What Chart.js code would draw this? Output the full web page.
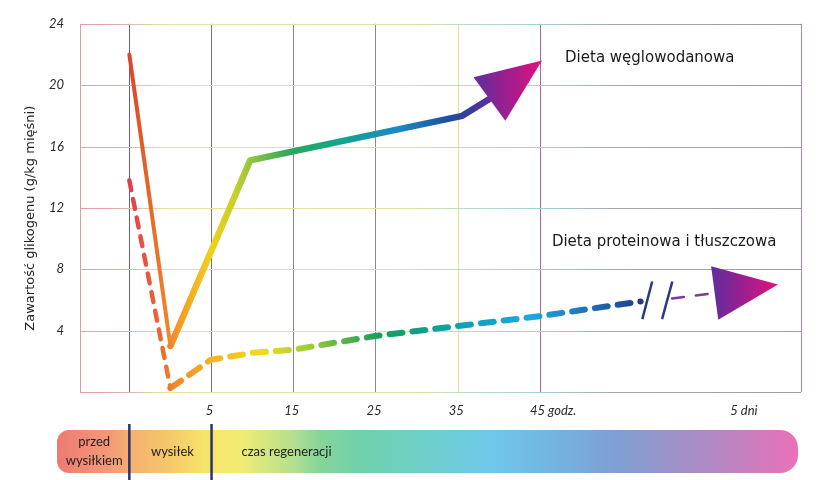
<!DOCTYPE html>
<html lang="pl">
<head>
<meta charset="utf-8">
<title>Glikogen a dieta</title>
<script src="https://cdn.jsdelivr.net/npm/chart.js@4.4.1/dist/chart.umd.min.js"></script>
<style>
    html, body { margin: 0; padding: 0; background: #fff; }
    #wrap { position: relative; width: 840px; height: 480px; }
</style>
</head>
<body>
<div id="wrap"><canvas id="glycogenChart" width="840" height="480"></canvas></div>
<script>
// values (hours after exercise / g glycogen per kg muscle)
const carbHours = [-5, 0, 9.7, 35.5, 38.8];
const carbGlycogen = [22, 3, 15.1, 18, 19.1];
const carbArrowTip = [45.2, 21.6];

const proteinHours = [-5, 0, 4.9, 10, 14.8, 24.9, 34.9, 45, 57.2, 61, 66.2];
const proteinGlycogen = [13.8, 0.25, 2.1, 2.55, 2.75, 3.65, 4.3, 4.95, 5.9, 6.1, 6.45];
const proteinArrowTip = [73.9, 7.0];
const axisBreak = [57.2, 61];
const breakMarkHours = [[57.4, 58.6], [59.8, 61.05]];
const breakMarkGlycogen = [4.75, 7.2];

const gridHours = [-5, 5, 15, 25, 35, 45];
const labelHours = [5, 15, 25, 35, 46.8, 70];
const labelTexts = ['5', '15', '25', '35', '45 godz.', '5 dni'];
const glycogenTicks = [0, 4, 8, 12, 16, 20, 24];

const phaseBounds = [-5, 5];
const phaseLabels = [['przed', 'wysiłkiem'], ['wysiłek'], ['czas regeneracji']];

const seriesNames = ['Dieta węglowodanowa', 'Dieta proteinowa i tłuszczowa'];

// colours along the lines, keyed by hour
const carbStops = [[-5, '#d9472b'], [-0.6, '#ef8126'], [1.2, '#f59d24'], [4.9, '#f2cf1c'], [7.9, '#c4d12a'],
    [9.7, '#92c640'], [14.6, '#2aa85a'], [20.7, '#12a58e'], [28, '#1a88c2'], [34, '#1e4f9c'], [37.1, '#45379c'], [39.5, '#6a2a9a']];
const proteinStops = [[-5, '#e04050'], [-1.2, '#e86a30'], [0.6, '#ef8a28'], [4.9, '#f4b224'], [11, '#f0dc1a'],
    [15.8, '#b0cf33'], [20.7, '#5cb545'], [25.5, '#14a05c'], [31.6, '#10a08c'], [36.5, '#12a0c0'], [43.8, '#1aa8e0'],
    [51.1, '#1e70b8'], [57.2, '#1e3a8a'], [60, '#7a3a9a']];

const FONT = "'DejaVu Sans', sans-serif";

function lineGradient(chart, stops, fallback) {
    const area = chart.chartArea;
    const xs = chart.scales.x;
    if (!area || !xs) return fallback;
    const g = chart.ctx.createLinearGradient(area.left, 0, area.right, 0);
    const w = area.right - area.left;
    stops.forEach(([h, col]) => {
        const t = (xs.getPixelForValue(h) - area.left) / w;
        g.addColorStop(Math.min(1, Math.max(0, t)), col);
    });
    return g;
}

const vGridColors = { '-5': '#6e5f72', '5': '#7a7080', '15': '#8a8486', '25': '#8c8a8a', '35': '#e8df94', '45': '#b0649a' };
function vGridColor(c) {
    if (!c.tick) return 'rgba(0,0,0,0)';
    const v = c.tick.value;
    if (v === c.scale.min) return '#e897a4';
    if (v === c.scale.max) return '#a58aa6';
    return vGridColors[String(v)] || 'rgba(0,0,0,0)';
}

// horizontal grid lines fade pink -> yellow -> cyan -> grey across the plot
const hGrid = {
    id: 'hGrid',
    beforeDatasetsDraw(chart) {
        const { ctx, chartArea: area, scales: { y } } = chart;
        const g = ctx.createLinearGradient(area.left, 0, area.right, 0);
        [[0, '#e99aa8'], [0.06, '#dcb0ae'], [0.12, '#e8e29a'], [0.45, '#e0e49a'], [0.55, '#aedccb'],
         [0.64, '#9ed2d4'], [0.75, '#a6a6ae'], [1, '#a898aa']].forEach(([t, col]) => g.addColorStop(t, col));
        ctx.save();
        ctx.strokeStyle = g;
        ctx.lineWidth = 1;
        y.ticks.forEach(t => {
            const py = Math.round(y.getPixelForValue(t.value)) + 0.5;
            ctx.beginPath();
            ctx.moveTo(area.left, py);
            ctx.lineTo(area.right, py);
            ctx.stroke();
        });
        ctx.restore();
    }
};

const arrowHeads = {
    id: 'arrowHeads',
    afterDatasetsDraw(chart) {
        const { ctx, scales: { x, y } } = chart;
        [[0, carbArrowTip], [1, proteinArrowTip]].forEach(([di, tip]) => {
            const pts = chart.getDatasetMeta(di).data;
            const base = pts[pts.length - 1];
            const tx = x.getPixelForValue(tip[0]);
            const ty = y.getPixelForValue(tip[1]);
            const dx = tx - base.x, dy = ty - base.y;
            const len = Math.hypot(dx, dy);
            const nx = -dy / len * 27, ny = dx / len * 27;
            const xsPts = [tx, base.x + nx, base.x - nx];
            const g = ctx.createLinearGradient(Math.min(...xsPts), 0, Math.max(...xsPts), 0);
            g.addColorStop(0, '#5e2f9c');
            g.addColorStop(0.55, '#a51c8e');
            g.addColorStop(1, '#e3127c');
            ctx.save();
            ctx.fillStyle = g;
            ctx.beginPath();
            ctx.moveTo(tx, ty);
            ctx.lineTo(base.x + nx, base.y + ny);
            ctx.lineTo(base.x - nx, base.y - ny);
            ctx.closePath();
            ctx.fill();
            ctx.restore();
        });
    }
};

const seriesNotes = {
    id: 'seriesNotes',
    afterDatasetsDraw(chart) {
        const { ctx, scales: { x, y } } = chart;
        ctx.save();
        ctx.fillStyle = '#1a1a1a';
        ctx.font = '15px ' + FONT;
        ctx.textBaseline = 'middle';
        ctx.textAlign = 'left';
        ctx.fillText(seriesNames[0], x.getPixelForValue(48), y.getPixelForValue(21.75));
        ctx.fillText(seriesNames[1], x.getPixelForValue(46.4), y.getPixelForValue(9.75));
        ctx.restore();
    }
};

const phaseBar = {
    id: 'phaseBar',
    afterDraw(chart) {
        const { ctx, chartArea: area, scales: { x } } = chart;
        const left = area.left - 23, right = area.right - 3, top = 430, h = 43;
        const g = ctx.createLinearGradient(left, 0, right, 0);
        const w = right - left;
        [[57, '#ee7a72'], [110, '#f29a78'], [130, '#f4b070'], [170, '#f6c86a'], [205, '#f7e46a'], [240, '#f3ec72'],
         [290, '#b8e08e'], [320, '#86d49a'], [360, '#6fd0aa'], [420, '#6ed0c8'], [490, '#6ec8ea'], [560, '#74b2e0'],
         [620, '#809ed0'], [680, '#a090c8'], [740, '#c282c0'], [798, '#ea70b8']]
            .forEach(([px, col]) => g.addColorStop(Math.min(1, Math.max(0, (px - left) / w)), col));
        ctx.save();
        ctx.fillStyle = g;
        ctx.beginPath();
        ctx.roundRect(left, top, w, h, [12, 18, 18, 12]);
        ctx.fill();

        const b0 = x.getPixelForValue(phaseBounds[0]);
        const b1 = x.getPixelForValue(phaseBounds[1]);
        ctx.strokeStyle = '#2b3470';
        ctx.lineWidth = 2.5;
        [b0, b1].forEach(bx => {
            ctx.beginPath();
            ctx.moveTo(bx, top - 6);
            ctx.lineTo(bx, 480);
            ctx.stroke();
        });

        ctx.fillStyle = '#1f1f1f';
        ctx.font = "13px 'Lato', sans-serif";
        ctx.textBaseline = 'middle';
        ctx.textAlign = 'center';
        ctx.fillText(phaseLabels[0][0], (left + b0) / 2 + 1, top + 12);
        ctx.fillText(phaseLabels[0][1], (left + b0) / 2 + 1, top + 31);
        ctx.fillText(phaseLabels[1][0], (b0 + b1) / 2 + 2, top + 22);
        ctx.textAlign = 'left';
        ctx.fillText(phaseLabels[2][0], b1 + 30, top + 22);
        ctx.restore();
    }
};

const ctx = document.getElementById('glycogenChart').getContext('2d');
new Chart(ctx, {
    type: 'line',
    data: {
        datasets: [{
            label: seriesNames[0],
            data: carbHours.map((h, i) => ({ x: h, y: carbGlycogen[i] })),
            borderColor: c => lineGradient(c.chart, carbStops, '#f39a2a'),
            borderWidth: 6.5,
            borderJoinStyle: 'round',
            borderCapStyle: 'round',
            pointRadius: 0,
            tension: 0,
            segment: { borderWidth: s => s.p0DataIndex === 0 ? 4 : undefined }
        }, {
            label: seriesNames[1],
            data: proteinHours.map((h, i) => ({ x: h, y: proteinGlycogen[i] })),
            borderColor: c => lineGradient(c.chart, proteinStops, '#10a060'),
            borderWidth: 6,
            borderDash: [13, 10],
            borderCapStyle: 'round',
            pointRadius: 0,
            tension: 0,
            segment: {
                borderColor: s => {
                    if (s.p0.parsed.x >= axisBreak[0] && s.p1.parsed.x <= axisBreak[1]) return 'rgba(0,0,0,0)';
                    if (s.p0.parsed.x >= axisBreak[1]) return '#7a3a9a';
                    return undefined;
                },
                borderWidth: s => {
                    if (s.p0DataIndex === 0) return 4.5;
                    if (s.p0.parsed.x >= axisBreak[1]) return 2.5;
                    return undefined;
                },
                borderDash: s => {
                    if (s.p0DataIndex === 0) return [10, 9];
                    if (s.p0.parsed.x >= axisBreak[1]) return [12, 12];
                    return undefined;
                }
            }
        }, ...breakMarkHours.map(pair => ({
            label: 'break',
            data: pair.map((h, i) => ({ x: h, y: breakMarkGlycogen[i] })),
            borderColor: '#2b3a7c',
            borderWidth: 2.5,
            pointRadius: 0
        }))]
    },
    options: {
        responsive: false,
        animation: false,
        events: [],
        layout: { padding: { left: 0, right: 39, top: 18, bottom: 0 } },
        plugins: {
            legend: { display: false },
            tooltip: { enabled: false }
        },
        scales: {
            x: {
                type: 'linear',
                min: -11,
                max: 76.7,
                afterBuildTicks: scale => {
                    const vals = new Set([scale.min, scale.max, ...gridHours, ...labelHours]);
                    scale.ticks = [...vals].sort((a, b) => a - b).map(v => ({ value: v }));
                },
                afterFit: scale => { scale.height = 88; },
                border: { display: false },
                grid: { drawTicks: false, color: vGridColor, lineWidth: 1 },
                ticks: {
                    autoSkip: false,
                    maxRotation: 0,
                    padding: 11,
                    labelOffset: -2,
                    color: '#2a2a2a',
                    font: { family: "'Lato', sans-serif", style: 'italic', size: 13 },
                    callback: v => {
                        const i = labelHours.indexOf(v);
                        return i < 0 ? '' : labelTexts[i];
                    }
                }
            },
            y: {
                min: 0,
                max: 24,
                afterBuildTicks: scale => { scale.ticks = glycogenTicks.map(v => ({ value: v })); },
                afterFit: scale => { scale.width = 80; },
                border: { display: false },
                grid: { display: false, drawTicks: false },
                ticks: {
                    padding: 16,
                    color: '#2a2a2a',
                    font: { family: "'Lato', sans-serif", style: 'italic', size: 13 },
                    callback: v => v === 0 ? '' : String(v)
                },
                title: {
                    display: true,
                    // trailing spaces nudge the rotated title a little lower, as in the original
                    text: 'Zawartość glikogenu (g/kg mięśni)     ',
                    color: '#222',
                    font: { family: FONT, size: 13 },
                    padding: { top: 23, bottom: 0 }
                }
            }
        }
    },
    plugins: [hGrid, arrowHeads, seriesNotes, phaseBar]
});
</script>
</body>
</html>
